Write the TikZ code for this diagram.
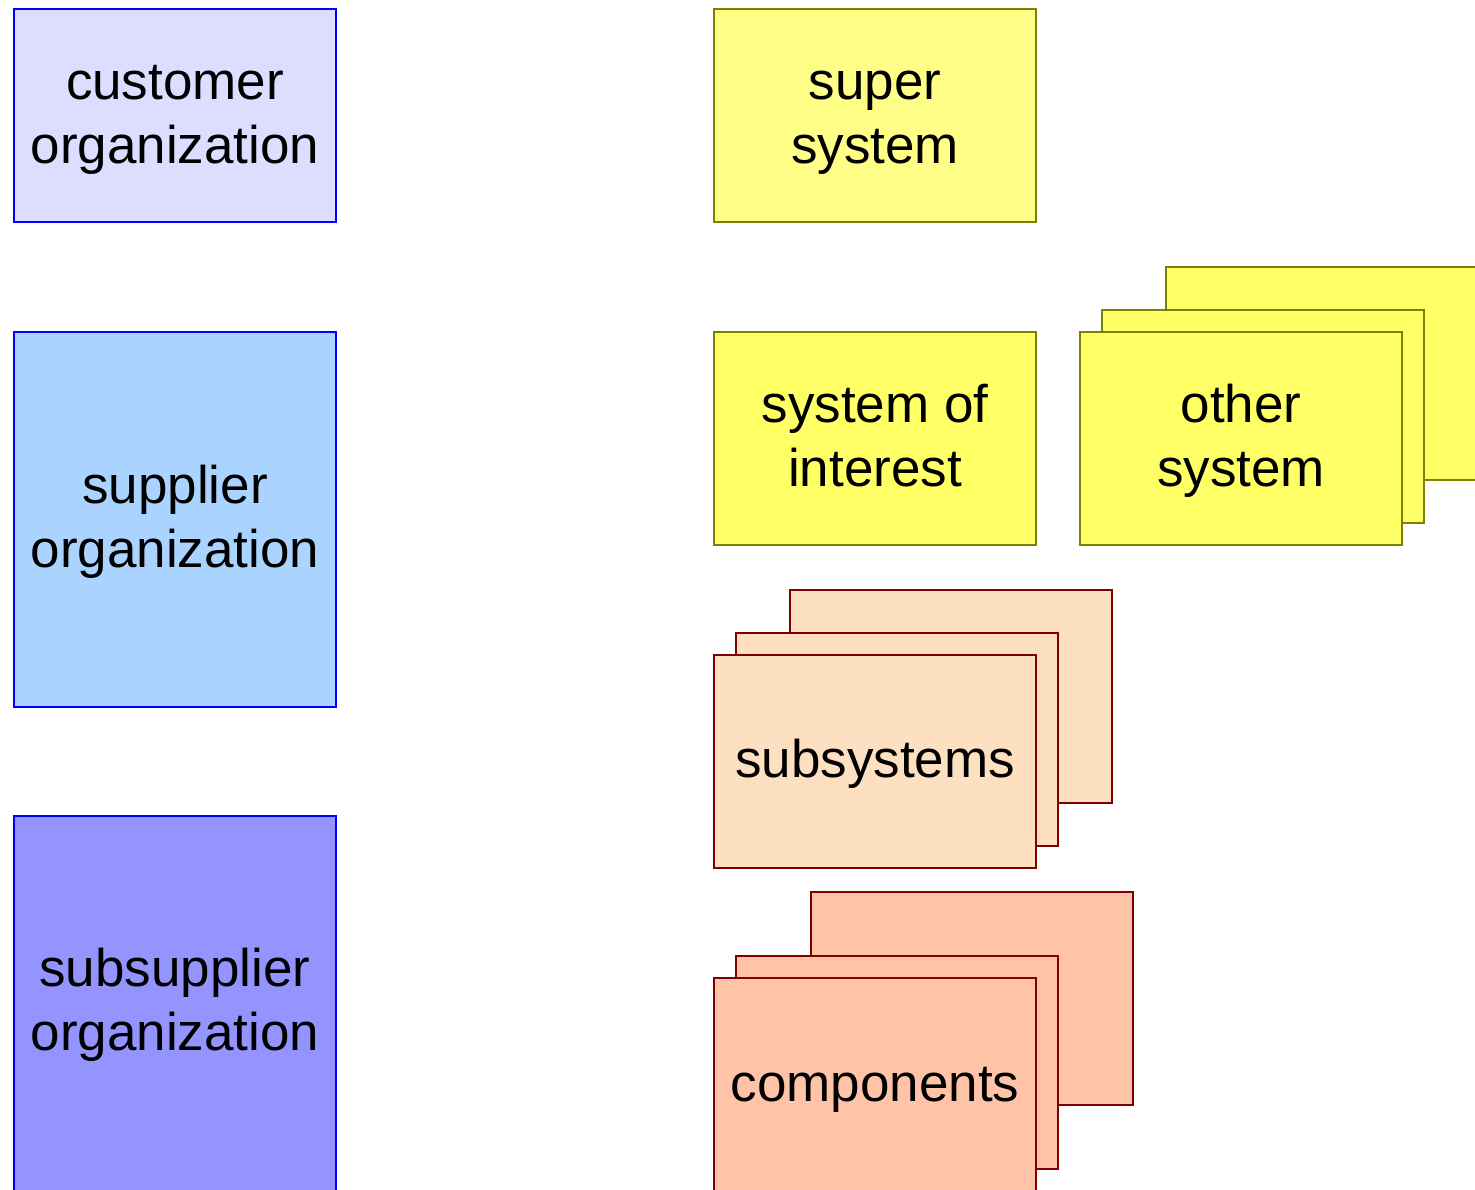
\documentclass[tikz,border=0pt]{standalone}
\usepackage{fontspec}
\setmainfont{Liberation Sans}
\definecolor{orgblue}{HTML}{0000FF}
\definecolor{custfill}{HTML}{DDDDFF}
\definecolor{suppfill}{HTML}{AAD4FF}
\definecolor{subsfill}{HTML}{9494FF}
\definecolor{olive}{HTML}{808000}
\definecolor{superfill}{HTML}{FFFF88}
\definecolor{sysfill}{HTML}{FFFF66}
\definecolor{darkred}{HTML}{800000}
\definecolor{subsysfill}{HTML}{FDDFC1}
\definecolor{compfill}{HTML}{FFC4A8}
% equal reach above the first baseline and below the last one,
% so a text node is centred on the middle of its baselines
\newcommand{\topstrut}{\rule{0pt}{45pt}}
\newcommand{\botstrut}{\rule[-45pt]{0pt}{45pt}}
\tikzset{
  box/.style={draw, line width=2pt, rectangle, minimum width=322pt, minimum height=213pt,
    inner sep=0pt},
  org/.style={box, draw=orgblue},
  sys/.style={box, draw=olive},
  part/.style={box, draw=darkred},
  txt/.style={inner sep=0pt, align=center, font=\fontsize{53}{64}\selectfont, text=black},
}
\newcommand{\boxtext}[3]{\node[txt] (#1-t) at ([yshift=-16pt]#2.center) {\topstrut#3\botstrut};}
\begin{document}
\begin{tikzpicture}[x=1pt, y=-1pt]
  \clip (0,0) rectangle (1475,1190);
  \fill[white] (0,0) rectangle (1475,1190);

  % organizations
  \node[org, fill=custfill] (customer) at (175,115.5) {};
  \boxtext{customer}{customer}{customer\\organization}
  \node[org, fill=suppfill, minimum height=375pt] (supplier) at (175,519.5) {};
  \boxtext{supplier}{supplier}{supplier\\organization}
  \node[org, fill=subsfill, minimum height=398pt] (subsupplier) at (175,1015) {};
  \coordinate (subsupplier-c) at (175,1002);
  \boxtext{subsupplier}{subsupplier-c}{subsupplier\\organization}

  % systems
  \node[sys, fill=superfill] (super) at (875,115.5) {};
  \boxtext{super}{super}{super\\system}
  \node[sys, fill=sysfill] (soi) at (875,438.5) {};
  \boxtext{soi}{soi}{system of\\interest}
  \node[sys, fill=sysfill] (other3) at (1327,373.5) {};
  \node[sys, fill=sysfill] (other2) at (1262.5,416.5) {};
  \node[sys, fill=sysfill] (other) at (1241,438.5) {};
  \boxtext{other}{other}{other\\system}

  % subsystems
  \node[part, fill=subsysfill] (subsys3) at (950.5,696.5) {};
  \node[part, fill=subsysfill] (subsys2) at (896.5,739.5) {};
  \node[part, fill=subsysfill] (subsys) at (875,761.5) {};
  \boxtext{subsys}{subsys}{subsystems}

  % components
  \node[part, fill=compfill] (comp3) at (971.5,998) {};
  \node[part, fill=compfill] (comp2) at (896.5,1062.5) {};
  \node[part, fill=compfill, minimum height=228pt] (comp) at (875,1092) {};
  \coordinate (comp-c) at (875,1085);
  \boxtext{comp}{comp-c}{components}
\end{tikzpicture}
\end{document}
